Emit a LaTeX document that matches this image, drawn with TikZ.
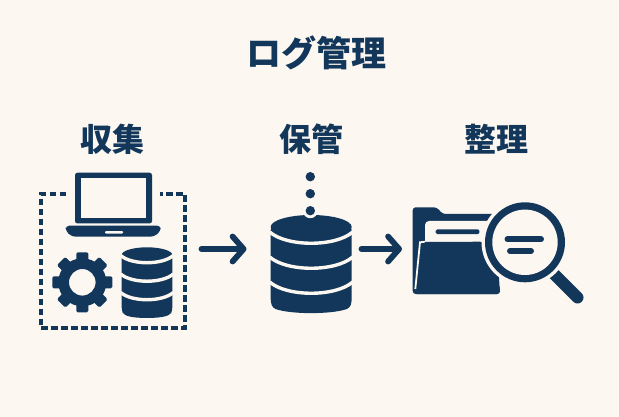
\documentclass[tikz,border=0pt]{standalone}
\usepackage{fontspec}
\newfontfamily\cjkfont{Noto Sans CJK JP}
\usetikzlibrary{arrows.meta}
\usetikzlibrary{calc}
\usetikzlibrary{math}
\definecolor{navy}{HTML}{12375A}
\definecolor{paper}{HTML}{FCF7F1}
\tikzset{
  heading/.style={font=\cjkfont\bfseries\fontsize{32}{32}\selectfont, text=navy, inner sep=0pt},
  flow/.style={draw=navy, line width=5.8pt, line cap=round,
    -{Straight Barb[length=11pt,width=25pt,round]}},
  gap/.style={draw=paper, line width=3.4pt},
}
% database icon: centre x, top, bottom, half width, ry, first separator, separator step
\newcommand{\dbstack}[7]{
  \fill[navy, rounded corners=3pt] ({#1-#4},{#2+#5}) -- ({#1-#4},{#3-#5}) -- ({#1-#4+2},{#3-#5*0.5})
    .. controls ({#1-#4*0.5},{#3+0.5}) and ({#1+#4*0.5},{#3+0.5}) .. ({#1+#4-2},{#3-#5*0.5})
    -- ({#1+#4},{#3-#5}) -- ({#1+#4},{#2+#5}) -- cycle;
  \fill[navy] (#1,{#2+#5}) ellipse [x radius=#4, y radius=#5];
  \foreach \k in {0,1,2} {
    \draw[gap] ({#1-#4-1},{#6+\k*#7}) .. controls ({#1-#4*0.6},{#6+\k*#7+#5*1.25}) and ({#1+#4*0.6},{#6+\k*#7+#5*1.25}) .. ({#1+#4+1},{#6+\k*#7});
  }
}
\begin{document}
\begin{tikzpicture}[x=1pt,y=-1pt]

  \tikzmath{
    \gearx = 82.3;  % centre of the gear
    \geary = 282.3;
    \lensx = 525;   % centre of the magnifier
    \lensy = 242.3;
  }

  \fill[paper] (0,0) rectangle (619,417);
  \useasboundingbox (0,0) rectangle (619,417);

  % Headings
  \node[heading, font=\cjkfont\bfseries\fontsize{35}{35}\selectfont] (title) at (316.5,52.5) {ログ管理};
  \node[heading] (collect) at (112.5,139) {収集};
  \node[heading] (store) at (311.5,139) {保管};
  \node[heading] (sort) at (496.5,139) {整理};

  % Dashed frame, open behind the laptop
  \draw[navy, line width=3.6pt, dash pattern=on 6.3pt off 3.7pt]
    (66,194) -- (40.7,194) -- (40.7,328) -- (185,328) -- (185,194) -- (160,194);

  % Laptop
  \fill[navy, rounded corners=2.5pt] (75,172.7) rectangle (152,223.5);
  \fill[paper] (80.7,178.3) rectangle (146,218);
  \fill[navy, rounded corners=3.5pt] (65.7,225.7) -- (160.7,225.7) -- (160.7,231) -- (154,236.7) -- (72,236.7) -- (65.7,231) -- cycle;
  \fill[paper, rounded corners=1pt] (105,231) rectangle (123,233.7);

  % Gear
  \foreach \a in {0,45,...,315} {
    \fill[navy, rounded corners=1.5pt, rotate around={\a:(\gearx,\geary)}]
      ({\gearx-6},{\geary-30}) rectangle ({\gearx+6},{\geary-18});
  }
  \fill[navy, even odd rule] (\gearx,\geary) circle (24) (\gearx,\geary) circle (13.3);

  % Databases
  \dbstack{147}{247.3}{318.3}{25.3}{7.7}{255.5}{18.5}
  \dbstack{311.2}{215}{314}{40.5}{12}{232}{25}

  % Dots above the database
  \fill[paper] (310.3,210.7) circle (7.5);
  \fill[navy] (310.3,176.7) circle (4.7);
  \fill[navy] (310.3,193.7) circle (4.7);
  \fill[navy] (310.3,210.7) circle (4.7);

  % Arrows between the steps
  \coordinate (A) at (201.5,249);
  \coordinate (B) at (246.5,249);
  \coordinate (C) at (361.5,249);
  \coordinate (D) at (402,249);
  \draw[flow] (A) -- (B);
  \draw[flow] (C) -- (D);

  % Folder
  \fill[navy, rounded corners=3pt] (412.7,207.3) -- (436.7,207.3) -- (442.7,214) -- (495,214) -- (500,294) -- (412.7,294) -- cycle;
  \fill[paper, rounded corners=4pt] (425,246) -- (425,221) -- (500,221) -- (500,246) -- cycle;
  \fill[navy, rounded corners=1.5pt] (435.7,229.3) rectangle (479.3,234.2);
  \fill[navy, rounded corners=3pt] (420,242) -- (483,241.7) -- (500,288) -- (500,294) -- (414,294) -- cycle;
  \draw[paper, line width=1.8pt] (425,241.7) -- (420,242.3) -- (415.3,289);

  % Magnifier
  \draw[navy, line width=12pt, line cap=round] (551.7,271.7) -- (577.5,297.5);
  \fill[paper] (\lensx,\lensy) circle (43.5);
  \fill[navy] (\lensx,\lensy) circle (40);
  \fill[paper] (\lensx,\lensy) circle (32.7);
  \draw[navy, line width=6pt, line cap=round] (507.5,239.3) -- (541,239.3);
  \draw[navy, line width=6pt, line cap=round] (510,251) -- (531,251);

\end{tikzpicture}
\end{document}
